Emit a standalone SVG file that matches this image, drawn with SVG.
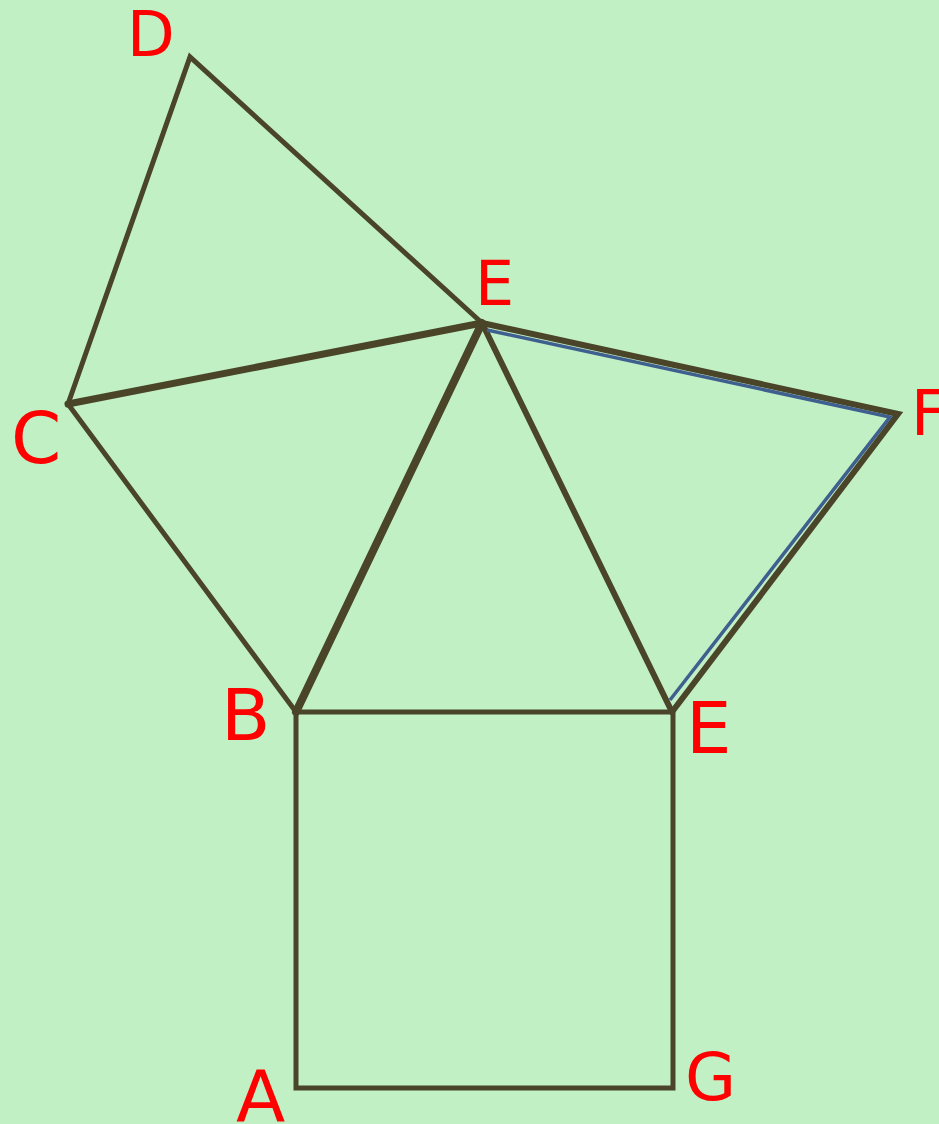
<svg xmlns="http://www.w3.org/2000/svg" width="939" height="1124" viewBox="0 0 939 1124">
<style>
.ln{stroke:#4a4429;fill:none;stroke-linecap:round;stroke-linejoin:miter}
.lb{fill:#ff0000;font-family:"DejaVu Sans",sans-serif}
.s{font-size:62px}
.b{font-size:72px}
</style>
<rect width="939" height="1124" fill="#c0f0c4"/>
<g id="connectors">
<path class="ln" stroke-width="5" d="M68,404 L190,57 L482,323"/>
<path class="ln" stroke-width="7" d="M68,404 L482,323"/>
<path class="ln" stroke-width="5" d="M68,404 L296,712"/>
<path class="ln" stroke-width="8" d="M296,712 L482,323"/>
<path class="ln" stroke-width="6" d="M482,323 L672,712"/>
<path class="ln" stroke-width="6" d="M482,323 L898,414 L672,712"/>
<path fill="none" stroke="#3f5f8f" stroke-width="3.5" d="M487,330 L890,417 L670,700"/>
<path class="ln" stroke-width="5" d="M296,712 L673,712 L673,1088 L296,1088 Z"/>
</g>
<g id="node-D"><text class="lb s" x="127" y="56">D</text></g>
<g id="node-E-top"><text class="lb s" x="475" y="305">E</text></g>
<g id="node-C"><text class="lb b" x="11" y="463">C</text></g>
<g id="node-F"><text class="lb s" x="911" y="435">F</text></g>
<g id="node-B"><text class="lb b" x="221" y="740">B</text></g>
<g id="node-E-bottom"><text class="lb b" x="686" y="753">E</text></g>
<g id="node-A"><text class="lb b" x="236" y="1121">A</text></g>
<g id="node-G"><text class="lb" font-size="66" x="685" y="1100">G</text></g>
</svg>
